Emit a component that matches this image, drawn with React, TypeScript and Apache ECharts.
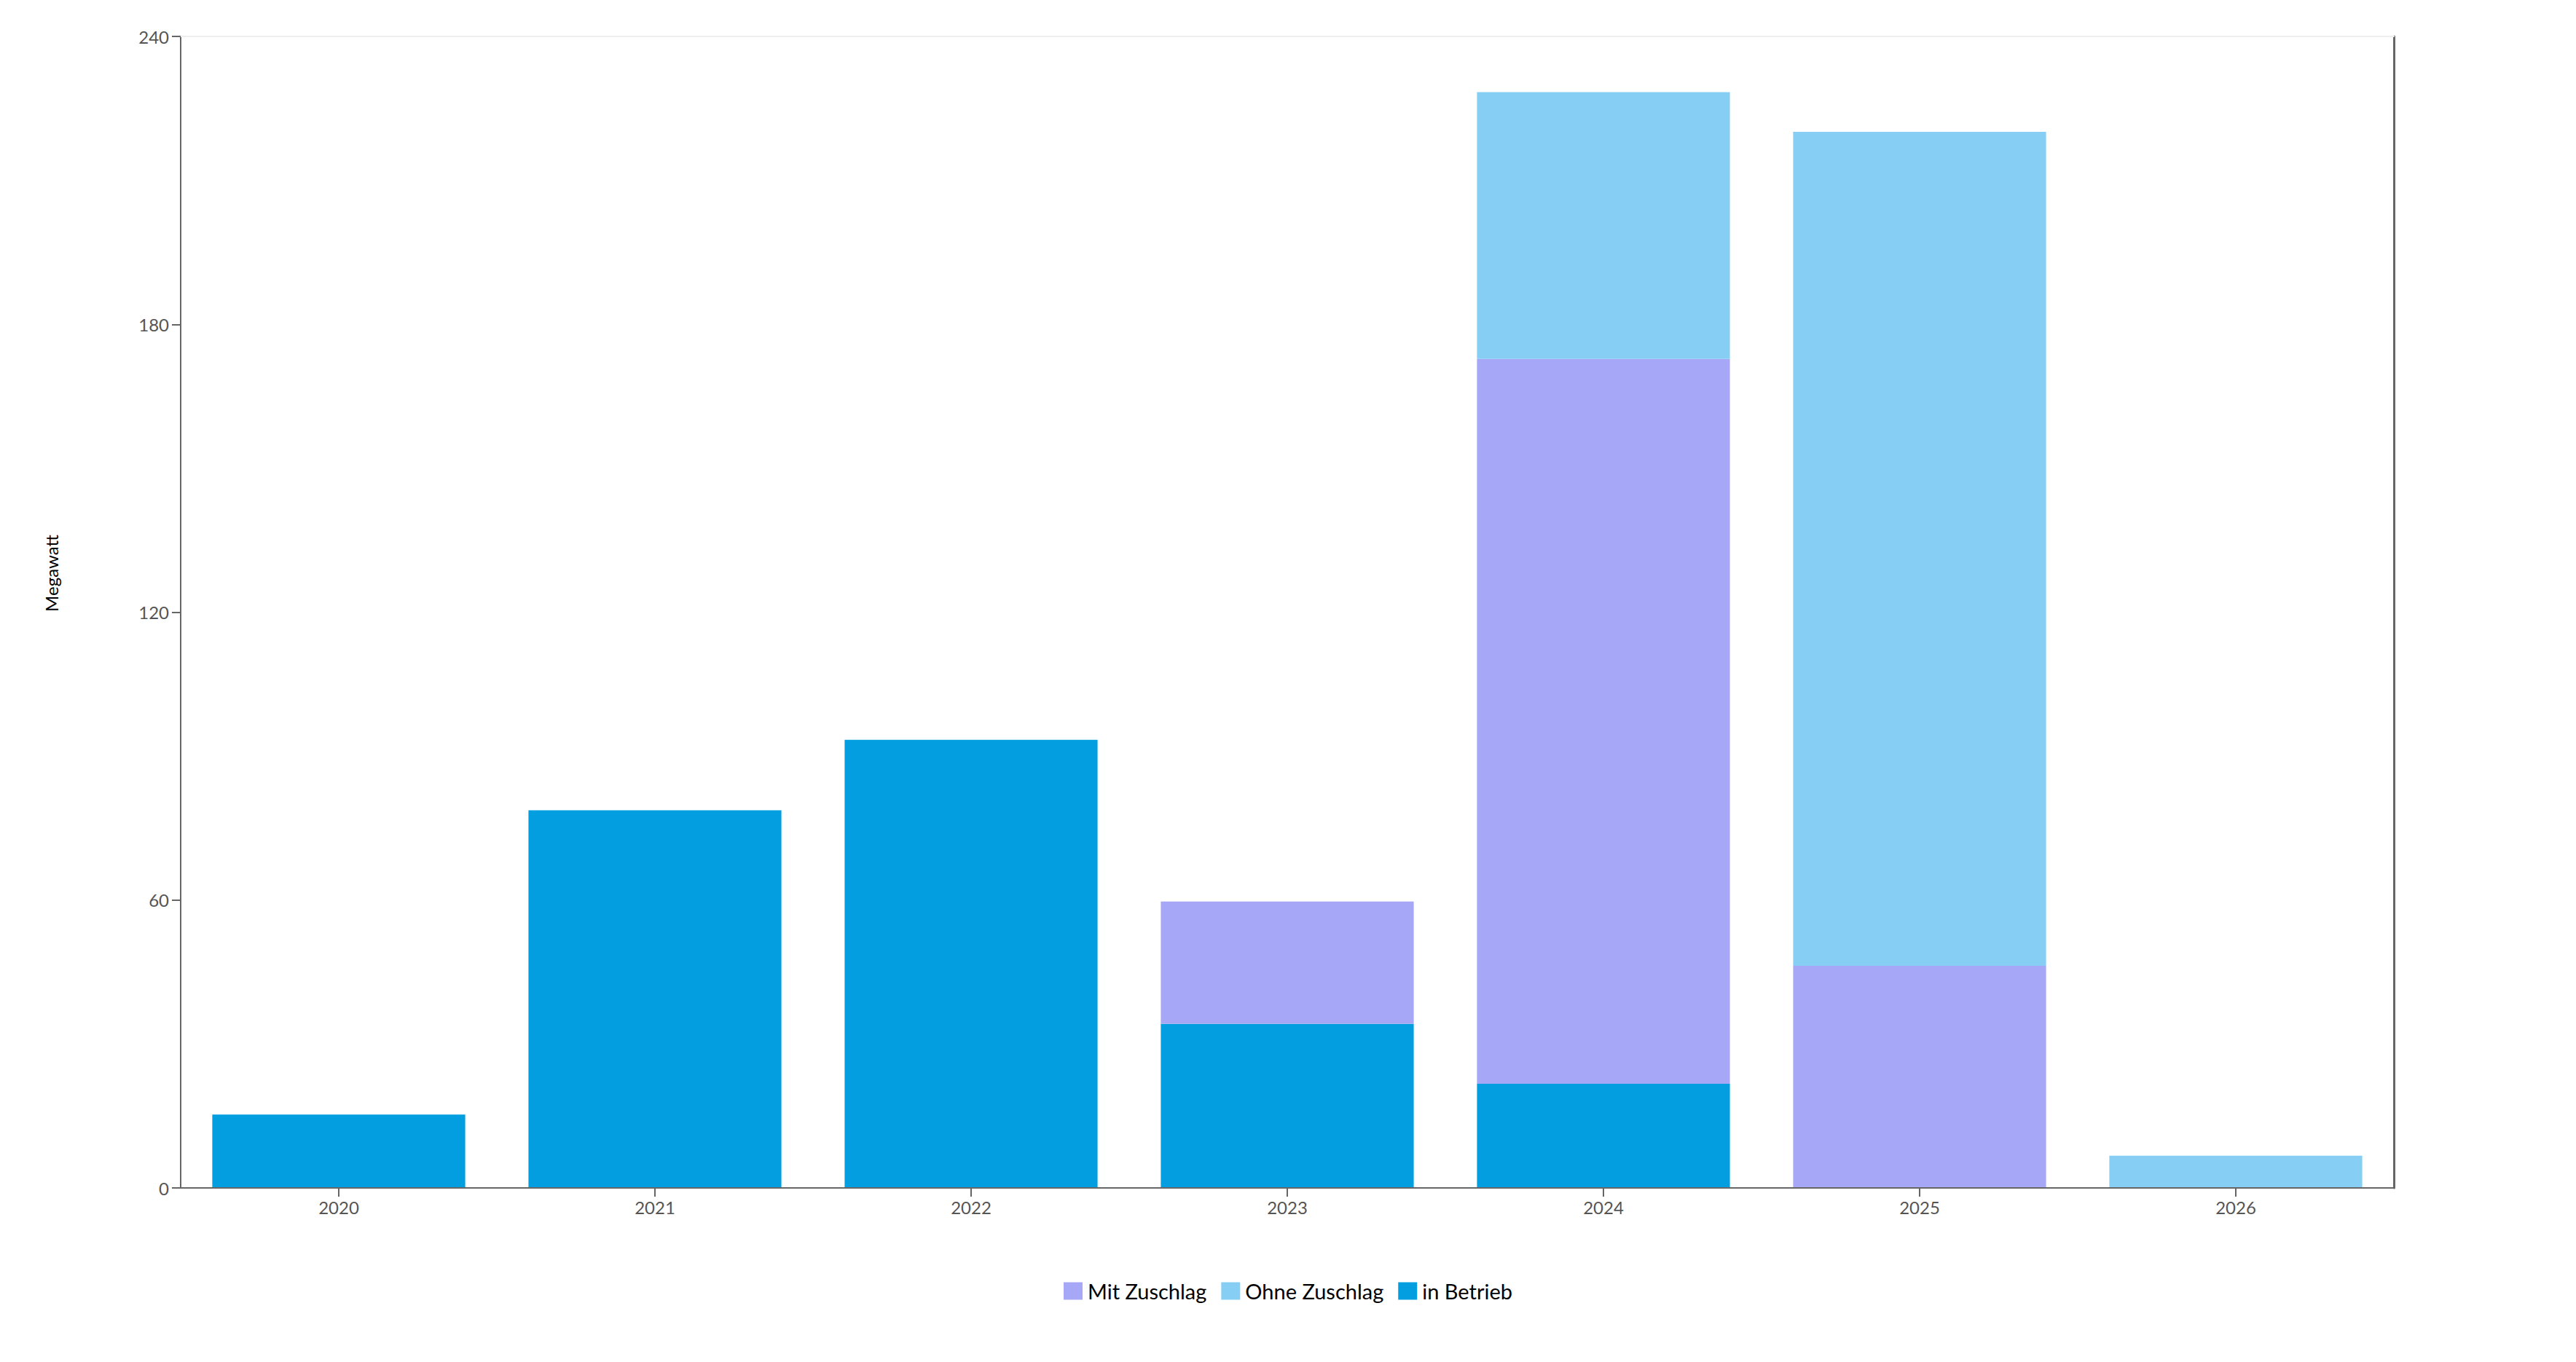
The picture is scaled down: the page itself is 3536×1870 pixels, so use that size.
import React, { useEffect, useRef } from "react";
import * as echarts from "echarts";

const years = ["2020", "2021", "2022", "2023", "2024", "2025", "2026"];
const inBetrieb = [15.3, 78.7, 93.4, 34.2, 21.7, 0, 0];
const mitZuschlag = [0, 0, 0, 25.5, 151.1, 46.3, 0];
const ohneZuschlag = [0, 0, 0, 0, 55.6, 173.8, 6.7];
const legendOrder = ["Mit Zuschlag", "Ohne Zuschlag", "in Betrieb"];
const yTicks = { min: 0, max: 240, interval: 60 };

const FONT = "Lato, 'Segoe UI', sans-serif";

export default function App() {
  const ref = useRef<HTMLDivElement>(null);
  useEffect(() => {
    document.body.style.margin = "0";
    const chart = echarts.init(ref.current!, undefined, { renderer: "svg" });
    const barStyle = (color: string) => ({ color });
    chart.setOption({
      animation: false,
      backgroundColor: "#ffffff",
      textStyle: { fontFamily: FONT },
      grid: { left: 248, right: 250, top: 50, bottom: 239, containLabel: false },
      legend: {
        data: legendOrder,
        top: 1753,
        left: "center",
        icon: "rect",
        itemWidth: 26,
        itemHeight: 24,
        itemGap: 20,
        textStyle: { color: "#000", fontSize: 29, fontFamily: FONT, padding: [0, 0, 0, 2] },
      },
      graphic: [
        {
          type: "text",
          x: 70,
          y: 787,
          rotation: Math.PI / 2,
          style: {
            text: "Megawatt",
            fill: "#000",
            fontSize: 24,
            fontFamily: FONT,
            align: "center",
            verticalAlign: "middle",
          },
        },
      ],
      xAxis: [
        {
          type: "category",
          data: years,
          position: "bottom",
          axisLine: { show: true, onZero: false, lineStyle: { color: "#666", width: 2 } },
          axisTick: { show: true, alignWithLabel: true, length: 12, lineStyle: { color: "#666", width: 2 } },
          axisLabel: { color: "#555", fontSize: 24, margin: 14, fontFamily: FONT },
          splitLine: { show: false },
          z: 5,
        },
        {
          type: "category",
          data: years,
          position: "top",
          axisLine: { show: true, onZero: false, lineStyle: { color: "#eeeeee", width: 2 } },
          axisTick: { show: false },
          axisLabel: { show: false },
          splitLine: { show: false },
        },
      ],
      yAxis: [
        {
          type: "value",
          min: yTicks.min,
          max: yTicks.max,
          interval: yTicks.interval,
          position: "left",
          axisLine: { show: true, onZero: false, lineStyle: { color: "#666", width: 2 } },
          axisTick: { show: true, length: 12, lineStyle: { color: "#666", width: 2 } },
          axisLabel: { color: "#555", fontSize: 24, margin: 16, fontFamily: FONT },
          splitLine: { show: false },
        },
        {
          type: "value",
          min: yTicks.min,
          max: yTicks.max,
          interval: yTicks.interval,
          position: "right",
          axisLine: { show: true, onZero: false, lineStyle: { color: "#666", width: 3 } },
          axisTick: { show: false },
          axisLabel: { show: false },
          splitLine: { show: false },
        },
      ],
      series: [
        {
          name: "in Betrieb",
          type: "bar",
          stack: "total",
          data: inBetrieb,
          barCategoryGap: "20%",
          itemStyle: barStyle("#029ee0"),
        },
        {
          name: "Mit Zuschlag",
          type: "bar",
          stack: "total",
          data: mitZuschlag,
          barCategoryGap: "20%",
          itemStyle: barStyle("#a6a7f6"),
        },
        {
          name: "Ohne Zuschlag",
          type: "bar",
          stack: "total",
          data: ohneZuschlag,
          barCategoryGap: "20%",
          itemStyle: barStyle("#87cef4"),
        },
      ],
    });
    return () => chart.dispose();
  }, []);
  return (
    <div
      ref={ref}
      style={{ position: "absolute", left: 0, top: 0, width: 3536, height: 1870 }}
    />
  );
}
